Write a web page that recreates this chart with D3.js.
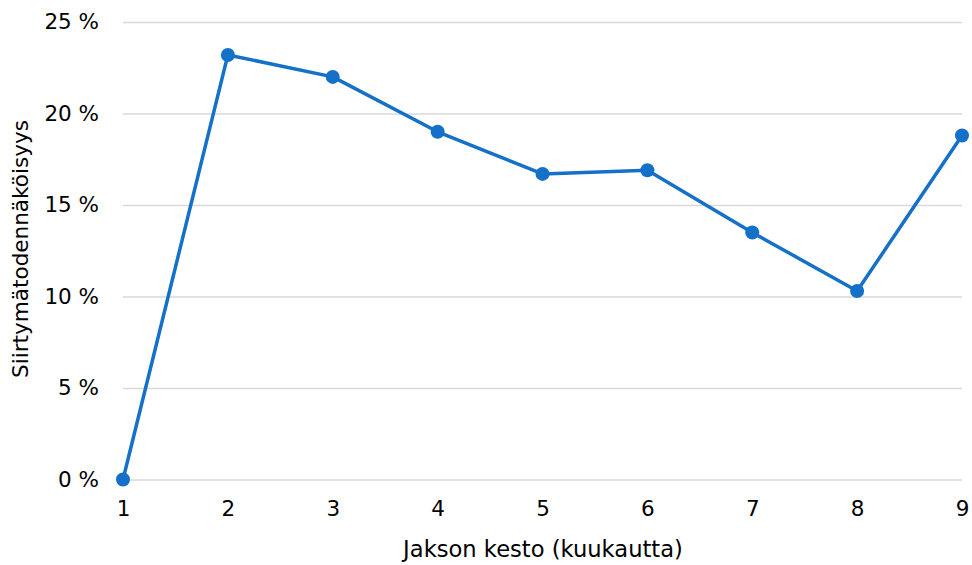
<!DOCTYPE html>
<html><head><meta charset="utf-8">
<script src="https://cdn.jsdelivr.net/npm/d3@7"></script>
<style>body{margin:0;background:#fff}svg{display:block}</style>
</head><body>
<svg id="c" width="972" height="565"></svg>
<script>
const months = [1,2,3,4,5,6,7,8,9];
const values = [0, 23.2, 22.0, 19.0, 16.7, 16.9, 13.5, 10.3, 18.8];
const yTicks = [0,5,10,15,20,25];
const xTitle = "Jakson kesto (kuukautta)";
const yTitle = "Siirtymätodennäköisyys";

const svg = d3.select("#c");
const font = "'DejaVu Sans', sans-serif";
const x = d3.scaleLinear().domain([1,9]).range([123,962]);
const y = d3.scaleLinear().domain([0,25]).range([479.5,22]);

const yAxis = d3.axisLeft(y).tickValues(yTicks).tickSize(-(962-123)).tickPadding(24)
  .tickFormat(d => d + " %");
const gy = svg.append("g").attr("transform","translate(123,0)").call(yAxis);
gy.select(".domain").remove();
gy.selectAll(".tick line").attr("stroke","#d9d9d9").attr("stroke-width",1.5);
gy.selectAll(".tick text").attr("font-family",font).attr("font-size",21.5).attr("fill","#000");

const xAxis = d3.axisBottom(x).tickValues(months).tickSize(0).tickPadding(21).tickFormat(d3.format("d"));
const gx = svg.append("g").attr("transform","translate(0,479.5)").call(xAxis);
gx.select(".domain").remove();
gx.selectAll(".tick text").attr("font-family",font).attr("font-size",21.5).attr("fill","#000");

function fitText(sel, target) {
  const w = sel.node().getComputedTextLength();
  const fs = +sel.attr("font-size");
  sel.attr("font-size", fs * target / w);
}
const xt = svg.append("text").attr("x",543).attr("y",557).attr("text-anchor","middle")
  .attr("font-family",font).attr("font-size",20).attr("fill","#000").text(xTitle);
fitText(xt, 280);
const yt = svg.append("text").attr("transform","translate(28,249) rotate(-90)").attr("text-anchor","middle")
  .attr("font-family",font).attr("font-size",20).attr("fill","#000").text(yTitle);
fitText(yt, 258);

const line = d3.line().x((d,i)=>x(months[i])).y(d=>y(d));
svg.append("path").datum(values).attr("d",line).attr("fill","none")
  .attr("stroke","#1570c8").attr("stroke-width",3.5).attr("stroke-linejoin","round");
svg.selectAll("circle.pt").data(values).enter().append("circle").attr("class","pt")
  .attr("cx",(d,i)=>x(months[i])).attr("cy",d=>y(d)).attr("r",7).attr("fill","#1570c8");
</script>
</body></html>
